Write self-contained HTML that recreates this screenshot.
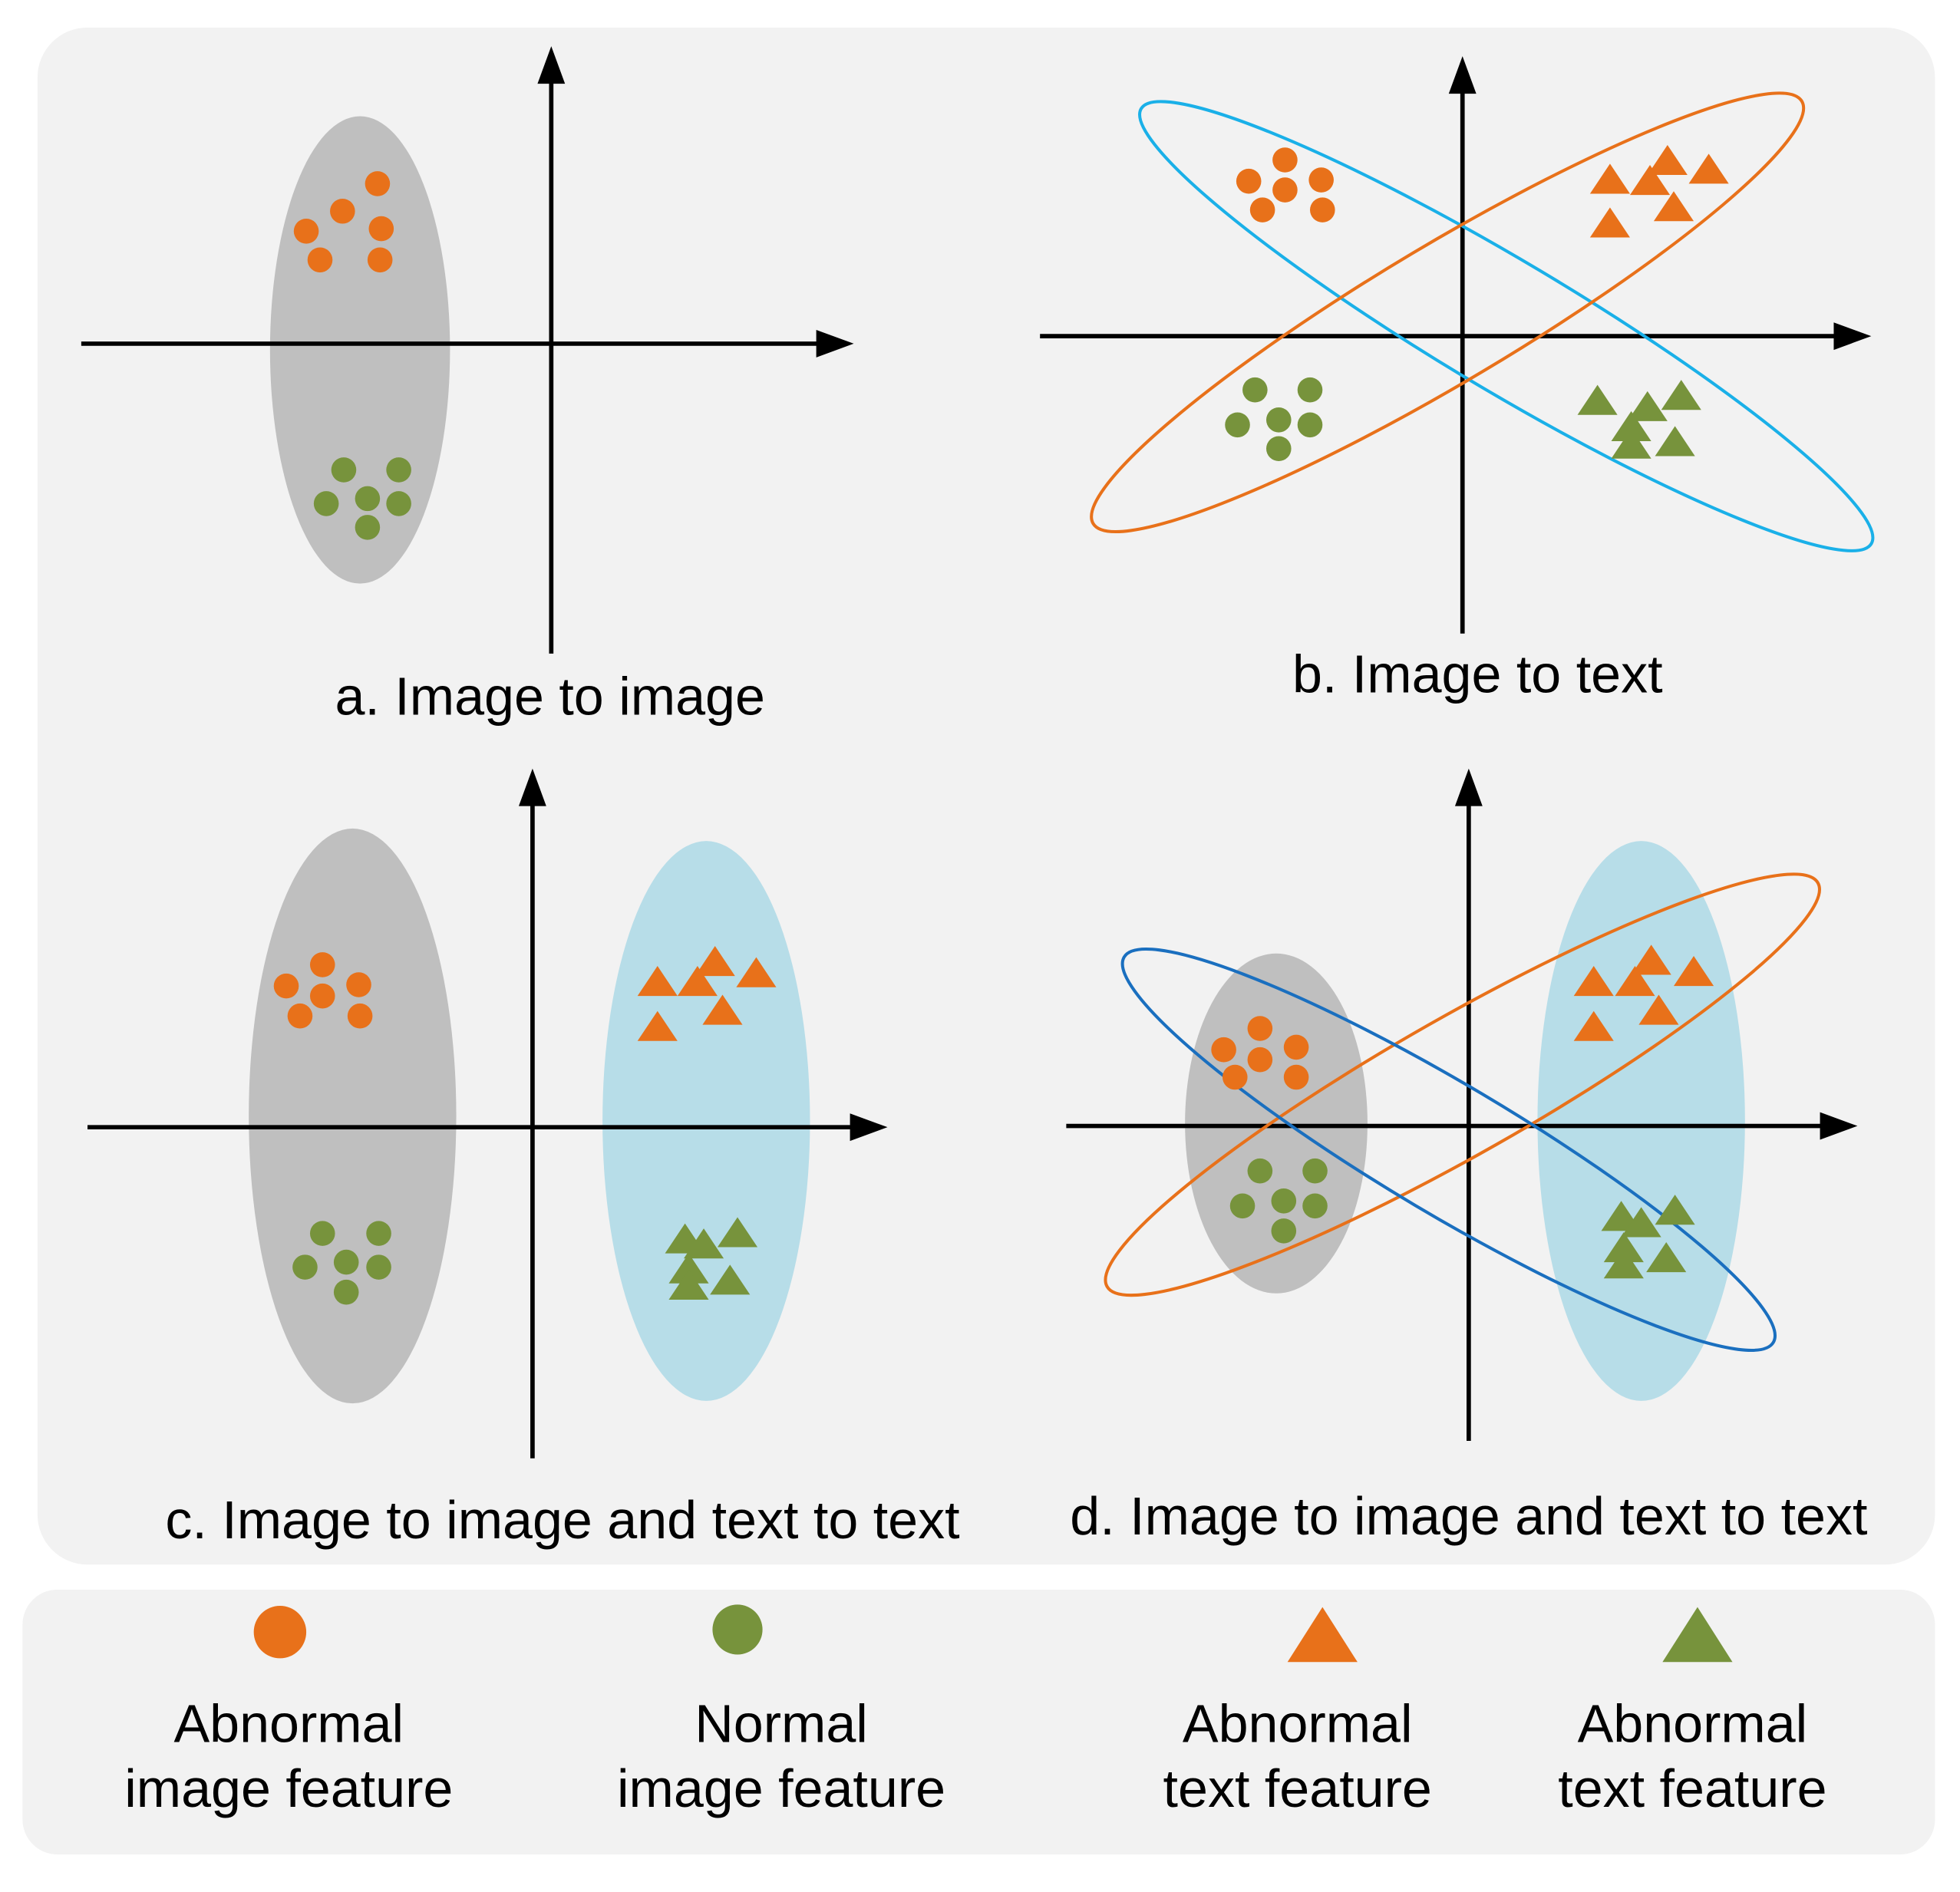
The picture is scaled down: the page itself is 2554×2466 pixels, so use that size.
<!DOCTYPE html>
<html><head><style>html,body{margin:0;padding:0;background:#fff}svg{display:block}</style></head>
<body>
<svg xmlns="http://www.w3.org/2000/svg" width="2554" height="2466" viewBox="0 0 1568 1514" font-family="Liberation Sans, Arial, sans-serif">
<defs>
<path id="to" d="M0,-14 L16,10 L-16,10 Z" fill="#e8711a"/>
<path id="tg" d="M0,-14 L16,10 L-16,10 Z" fill="#77933c"/>
</defs>
<rect x="0" y="0" width="1568" height="1514" fill="#fff"/>
<rect x="30" y="22" width="1518" height="1230" rx="40" fill="#f2f2f2"/>
<rect x="18" y="1272" width="1530" height="212" rx="28" fill="#f2f2f2"/>

<g stroke="#000" stroke-width="3.5">
<ellipse cx="288" cy="280" rx="72" ry="187" fill="#bfbfbf" stroke="none"/>
<line x1="65" y1="275" x2="660" y2="275"/><line x1="441" y1="523" x2="441" y2="60"/>
<line x1="832" y1="269" x2="1474" y2="269"/><line x1="1170" y1="507" x2="1170" y2="68"/>
<ellipse cx="282" cy="893" rx="83" ry="230" fill="#bfbfbf" stroke="none"/>
<ellipse cx="565" cy="897" rx="83" ry="224" fill="#b7dde8" stroke="none"/>
<line x1="70" y1="902" x2="687" y2="902"/><line x1="426" y1="1167" x2="426" y2="638"/>
<ellipse cx="1021" cy="899" rx="73" ry="136" fill="#bfbfbf" stroke="none"/>
<ellipse cx="1313" cy="897" rx="83" ry="224" fill="#b7dde8" stroke="none"/>
<line x1="853" y1="901" x2="1463" y2="901"/><line x1="1175" y1="1153" x2="1175" y2="638"/>
</g>
<g fill="#000">
<path d="M683,275 L653,264 L653,286Z"/><path d="M441,37 L430,67 L452,67Z"/>
<path d="M1497,269 L1467,258 L1467,280Z"/><path d="M1170,45 L1159,75 L1181,75Z"/>
<path d="M710,902 L680,891 L680,913Z"/><path d="M426,615 L415,645 L437,645Z"/>
<path d="M1486,901 L1456,890 L1456,912Z"/><path d="M1175,615 L1164,645 L1186,645Z"/>
</g>
<g fill="none" stroke-width="2.5">
<ellipse cx="1205" cy="261" rx="340" ry="52" transform="rotate(30.8 1205 261)" stroke="#1ab0e8"/>
<ellipse cx="1158" cy="250" rx="330" ry="55" transform="rotate(-30.8 1158 250)" stroke="#e8711a"/>
<ellipse cx="1170" cy="868" rx="327" ry="55" transform="rotate(-29.6 1170 868)" stroke="#e8711a"/>
<ellipse cx="1159" cy="920" rx="302" ry="52" transform="rotate(30.7 1159 920)" stroke="#1a6fbf"/>
</g>
<g fill="#e8711a">
<circle cx="302" cy="147" r="10"/><circle cx="274" cy="169" r="10"/><circle cx="245" cy="185" r="10"/><circle cx="305" cy="183" r="10"/><circle cx="256" cy="208" r="10"/><circle cx="304" cy="208" r="10"/>
<circle cx="1028" cy="128" r="10"/><circle cx="999" cy="145" r="10"/><circle cx="1057" cy="144" r="10"/><circle cx="1028" cy="152" r="10"/><circle cx="1010" cy="168" r="10"/><circle cx="1058" cy="168" r="10"/>
<circle cx="258" cy="772" r="10"/><circle cx="229" cy="789" r="10"/><circle cx="287" cy="788" r="10"/><circle cx="258" cy="797" r="10"/><circle cx="240" cy="813" r="10"/><circle cx="288" cy="813" r="10"/>
<circle cx="1008" cy="823" r="10"/><circle cx="979" cy="840" r="10"/><circle cx="1037" cy="838" r="10"/><circle cx="1008" cy="848" r="10"/><circle cx="988" cy="862" r="10"/><circle cx="1037" cy="862" r="10"/>
<circle cx="224" cy="1306" r="21"/>
</g>
<g fill="#77933c">
<circle cx="275" cy="376" r="10"/><circle cx="319" cy="376" r="10"/><circle cx="261" cy="403" r="10"/><circle cx="294" cy="399" r="10"/><circle cx="319" cy="403" r="10"/><circle cx="294" cy="422" r="10"/>
<circle cx="1004" cy="312" r="10"/><circle cx="1048" cy="312" r="10"/><circle cx="990" cy="340" r="10"/><circle cx="1023" cy="336" r="10"/><circle cx="1048" cy="340" r="10"/><circle cx="1023" cy="359" r="10"/>
<circle cx="258" cy="987" r="10"/><circle cx="303" cy="987" r="10"/><circle cx="244" cy="1014" r="10"/><circle cx="277" cy="1010" r="10"/><circle cx="303" cy="1014" r="10"/><circle cx="277" cy="1034" r="10"/>
<circle cx="1008" cy="937" r="10"/><circle cx="1052" cy="937" r="10"/><circle cx="994" cy="965" r="10"/><circle cx="1027" cy="961" r="10"/><circle cx="1052" cy="965" r="10"/><circle cx="1027" cy="985" r="10"/>
<circle cx="590" cy="1304" r="20"/>
</g>
<g>
<use href="#to" x="1288" y="145"/><use href="#to" x="1334" y="130"/><use href="#to" x="1320" y="146"/><use href="#to" x="1367" y="137"/><use href="#to" x="1339" y="167"/><use href="#to" x="1288" y="180"/>
<use href="#tg" x="1278" y="322"/><use href="#tg" x="1318" y="327"/><use href="#tg" x="1345" y="318"/><use href="#tg" x="1305" y="343"/><use href="#tg" x="1340" y="355"/><use href="#tg" x="1305" y="357"/>
<use href="#to" x="526" y="787"/><use href="#to" x="572" y="771"/><use href="#to" x="558" y="787"/><use href="#to" x="605" y="780"/><use href="#to" x="578" y="810"/><use href="#to" x="526" y="823"/>
<use href="#tg" x="548" y="993"/><use href="#tg" x="563" y="997"/><use href="#tg" x="590" y="988"/><use href="#tg" x="551" y="1017"/><use href="#tg" x="584" y="1026"/><use href="#tg" x="551" y="1030"/>
<use href="#to" x="1275" y="787"/><use href="#to" x="1321" y="770"/><use href="#to" x="1308" y="787"/><use href="#to" x="1355" y="779"/><use href="#to" x="1327" y="810"/><use href="#to" x="1275" y="823"/>
<use href="#tg" x="1297" y="975"/><use href="#tg" x="1313" y="980"/><use href="#tg" x="1340" y="970"/><use href="#tg" x="1299" y="1000"/><use href="#tg" x="1333" y="1008"/><use href="#tg" x="1299" y="1013"/>
</g>
<path d="M1058,1286 L1086,1330 L1030,1330Z" fill="#e8711a"/>
<path d="M1358,1286 L1386,1330 L1330,1330Z" fill="#77933c"/>
<g font-size="43" fill="#000" text-anchor="middle">
<text x="440" y="572">a. Image to image</text>
<text x="1182" y="554">b. Image to text</text>
<text x="450" y="1231">c. Image to image and text to text</text>
<text x="1175" y="1228">d. Image to image and text to text</text>
</g>
<g font-size="43" fill="#000" text-anchor="middle">
<text x="231" y="1394">Abnormal</text><text x="231" y="1446">image feature</text>
<text x="625" y="1394">Normal</text><text x="625" y="1446">image feature</text>
<text x="1038" y="1394">Abnormal</text><text x="1038" y="1446">text feature</text>
<text x="1354" y="1394">Abnormal</text><text x="1354" y="1446">text feature</text>
</g>
</svg>
</body></html>
